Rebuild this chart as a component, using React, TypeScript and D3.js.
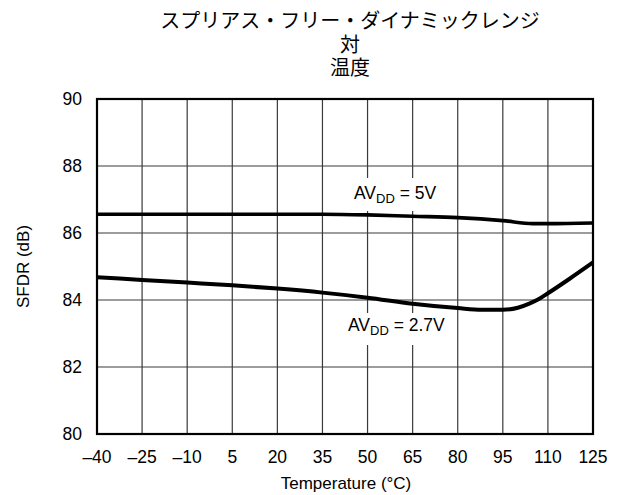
import React from "react";
import * as d3 from "d3";

const titleLines = ["スプリアス・フリー・ダイナミックレンジ", "対", "温度"];
const xTicks = [-40, -25, -10, 5, 20, 35, 50, 65, 80, 95, 110, 125];
const yTicks = [80, 82, 84, 86, 88, 90];
const temps5V = [-40, -25, -10, 5, 20, 35, 50, 65, 80, 95, 105, 110, 125];
const sfdr5V = [86.56, 86.56, 86.56, 86.56, 86.56, 86.56, 86.54, 86.5, 86.46, 86.37, 86.28, 86.28, 86.3];
const temps27V = [-40, -25, -10, 5, 20, 35, 50, 65, 80, 88, 95, 100, 104, 107, 110, 117, 125];
const sfdr27V = [84.68, 84.6, 84.52, 84.44, 84.34, 84.22, 84.07, 83.89, 83.76, 83.71, 83.71, 83.77, 83.9, 84.03, 84.2, 84.62, 85.12];
const xLabel = "Temperature (°C)";
const yLabel = "SFDR (dB)";

const W = 619, H = 495;
const left = 97, right = 593, top = 99, bottom = 434;
const FONT = "'Liberation Sans', Arial, Helvetica, sans-serif";
const CJK = "'Noto Sans CJK JP', sans-serif";

export default function App() {
  const x = d3.scaleLinear().domain([-40, 125]).range([left, right]);
  const y = d3.scaleLinear().domain([80, 90]).range([bottom, top]);
  const line = d3
    .line<[number, number]>()
    .x((d) => x(d[0]))
    .y((d) => y(d[1]))
    .curve(d3.curveMonotoneX);
  const d5 = line(temps5V.map((t, i) => [t, sfdr5V[i]] as [number, number])) || "";
  const d27 = line(temps27V.map((t, i) => [t, sfdr27V[i]] as [number, number])) || "";
  const titleBaselines = [28, 52, 75];

  return (
    <div style={{ position: "absolute", left: 0, top: 0 }}>
      <svg width={W} height={H} style={{ display: "block", background: "#fff" }}>
        <rect x={0} y={0} width={W} height={H} fill="#fff" />
        {titleLines.map((t, i) => (
          <text key={i} x={350} y={titleBaselines[i]} textAnchor="middle" fontFamily={CJK} fontSize={20} fill="#000">
            {t}
          </text>
        ))}
        {/* grid */}
        {xTicks.slice(1, -1).map((t) => (
          <line key={"gx" + t} x1={x(t)} x2={x(t)} y1={top} y2={bottom} stroke="#3a3a3a" strokeWidth={1.2} />
        ))}
        {yTicks.slice(1, -1).map((t) => (
          <line key={"gy" + t} x1={left} x2={right} y1={y(t)} y2={y(t)} stroke="#3a3a3a" strokeWidth={1.2} />
        ))}
        {/* label backgrounds */}
        <rect x={350} y={178} width={92} height={33} fill="#fff" />
        <rect x={344} y={313} width={112} height={32} fill="#fff" />
        {/* curves */}
        <path d={d5} fill="none" stroke="#000" strokeWidth={3.6} />
        <path d={d27} fill="none" stroke="#000" strokeWidth={4} />
        {/* frame */}
        <rect x={left} y={top} width={right - left} height={bottom - top} fill="none" stroke="#000" strokeWidth={2.2} />
        {/* ticks */}
        {xTicks.map((t) => (
          <text key={"xt" + t} x={x(t)} y={463} textAnchor="middle" fontFamily={FONT} fontSize={17.5} fill="#000">
            {t < 0 ? "\u2013" + Math.abs(t) : String(t)}
          </text>
        ))}
        {yTicks.map((t) => (
          <text key={"yt" + t} x={82} y={y(t)} dy="0.36em" textAnchor="end" fontFamily={FONT} fontSize={17.5} fill="#000">
            {t}
          </text>
        ))}
        <text x={346} y={489} textAnchor="middle" fontFamily={FONT} fontSize={17} fill="#000">
          {xLabel}
        </text>
        <text
          transform={`translate(29,${(top + bottom) / 2}) rotate(-90)`}
          textAnchor="middle"
          fontFamily={FONT}
          fontSize={17}
          fill="#000"
        >
          {yLabel}
        </text>
        {/* annotations */}
        <text x={354} y={199} fontFamily={FONT} fontSize={17.5} fill="#000">
          AV<tspan fontSize={13} dy={4}>DD</tspan>
          <tspan dy={-4}> = 5V</tspan>
        </text>
        <text x={348} y={331} fontFamily={FONT} fontSize={17.5} fill="#000">
          AV<tspan fontSize={13} dy={4}>DD</tspan>
          <tspan dy={-4}> = 2.7V</tspan>
        </text>
      </svg>
    </div>
  );
}
